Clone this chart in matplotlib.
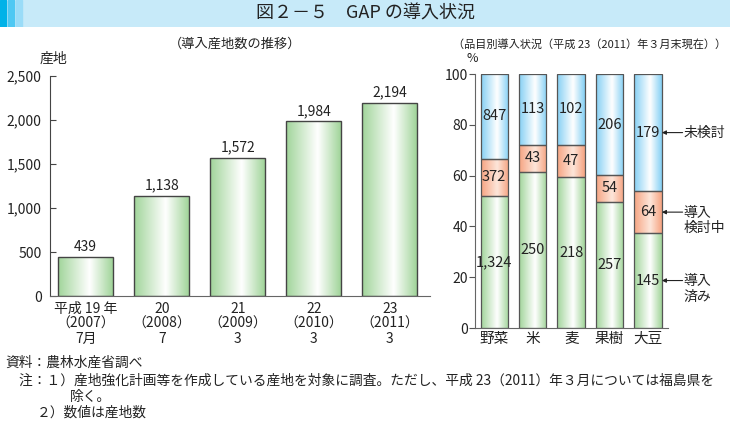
import matplotlib
matplotlib.use("Agg")
import matplotlib.pyplot as plt
import numpy as np
from matplotlib.patches import Rectangle
from matplotlib.colors import LinearSegmentedColormap

plt.rcParams['font.family'] = ['Noto Sans CJK JP', 'DejaVu Sans']

# ---- データ ----
years = ['平成 19 年\n（2007）\n7月', '20\n（2008）\n7', '21\n（2009）\n3',
         '22\n（2010）\n3', '23\n（2011）\n3']
counts = [439, 1138, 1572, 1984, 2194]

items = ['野菜', '米', '麦', '果樹', '大豆']
done = [1324, 250, 218, 257, 145]        # 導入済み
planning = [372, 43, 47, 54, 64]         # 導入検討中
not_yet = [847, 113, 102, 206, 179]      # 未検討

W, H = 730, 426
fig = plt.figure(figsize=(W / 100, H / 100), dpi=100)


def px_axes(x0, y0, x1, y1):
    # 画素座標 (左上原点) で軸を作る
    return fig.add_axes([x0 / W, 1 - y1 / H, (x1 - x0) / W, (y1 - y0) / H])


def grad_cmap(edge, mid='#ffffff'):
    return LinearSegmentedColormap.from_list('g', [edge, mid, edge])


def grad_bar(ax, x, bottom, height, width, cmap, ec, lw=1.0):
    xs = np.linspace(0, 1, 64)
    # ハイライトを少し右寄りに
    g = np.where(xs < 0.58, xs / 0.58 * 0.5, 0.5 + (xs - 0.58) / 0.42 * 0.5)
    img = ax.imshow(g[np.newaxis, :], aspect='auto', cmap=cmap, vmin=0, vmax=1,
                    extent=[x - width / 2, x + width / 2, bottom, bottom + height],
                    interpolation='bicubic', zorder=2)
    r = Rectangle((x - width / 2, bottom), width, height, fill=False,
                  ec=ec, lw=lw, zorder=3)
    ax.add_patch(r)
    img.set_clip_path(r)


green = grad_cmap('#a2d59b')
blue = grad_cmap('#86d0f4')
orange = grad_cmap('#f6a482', '#fde6da')

# ---- タイトル帯 ----
band = fig.add_axes([0, 1 - 27 / H, 1, 27 / H])
band.set_xlim(0, W)
band.set_ylim(0, 27)
band.axis('off')
band.add_patch(Rectangle((0, 0), W, 27, color='#c7eaf9'))
for x, c in [(0, '#00b2e8'), (8, '#4ec8f3'), (16, '#9adcf8')]:
    band.add_patch(Rectangle((x, 0), 6, 27, color=c))
band.text(W / 2, 13.5, '図２－５　GAP の導入状況', ha='center', va='center',
          fontsize=13, color='#222222')

# ---- 左：導入産地数の推移 ----
ax1 = px_axes(50, 76, 430, 296)
for i, v in enumerate(counts):
    grad_bar(ax1, i, 0, v, 0.72, green, '#444444', 1.0)
    ax1.text(i, v + 40, f'{v:,}', ha='center', va='bottom', fontsize=10,
             color='#222222')
ax1.set_xlim(-0.47, 4.53)
ax1.set_ylim(0, 2500)
ax1.set_yticks(range(0, 2501, 500))
ax1.set_yticklabels([f'{t:,}' for t in range(0, 2501, 500)])
ax1.set_xticks(range(len(years)))
ax1.set_xticklabels(years, linespacing=1.1)
ax1.tick_params(axis='y', direction='in', length=4, color='#444444',
                labelsize=10, pad=6, labelcolor='#222222')
ax1.tick_params(axis='x', length=0, labelsize=10, pad=4, labelcolor='#222222')
for s in ['top', 'right']:
    ax1.spines[s].set_visible(False)
ax1.spines['left'].set_color('#444444')
ax1.spines['bottom'].set_color('#666666')

fig.text(235 / W, 1 - 44 / H, '（導入産地数の推移）', ha='center', va='center',
         fontsize=9.5, color='#222222')
fig.text(40 / W, 1 - 59 / H, '産地', ha='left', va='center', fontsize=10,
         color='#222222')

# ---- 右：品目別導入状況 ----
ax2 = px_axes(475, 74, 668, 328)
for i in range(len(items)):
    tot = done[i] + planning[i] + not_yet[i]
    segs = [(done[i], green), (planning[i], orange), (not_yet[i], blue)]
    b = 0
    for n, cm in segs:
        h = n / tot * 100
        grad_bar(ax2, i, b, h, 0.71, cm, '#555555', 0.9)
        ax2.text(i, b + h / 2, f'{n:,}', ha='center', va='center',
                 fontsize=10.5, color='#222222', zorder=4)
        b += h
ax2.set_xlim(-0.5, 4.52)
ax2.set_ylim(0, 100)
ax2.set_yticks(range(0, 101, 20))
ax2.set_xticks(range(len(items)))
ax2.set_xticklabels(items)
ax2.tick_params(axis='y', direction='out', length=4, color='#555555',
                labelsize=10, pad=1, labelcolor='#222222')
ax2.tick_params(axis='x', length=0, labelsize=10.5, pad=3, labelcolor='#222222')
for s in ['top', 'right']:
    ax2.spines[s].set_visible(False)
for s in ['left', 'bottom']:
    ax2.spines[s].set_color('#666666')

# 凡例代わりの矢印注記 (大豆の棒に付ける)
tot = done[4] + planning[4] + not_yet[4]
p_done = done[4] / tot * 100
p_plan = planning[4] / tot * 100
p_not = not_yet[4] / tot * 100
notes = [('未検討', p_done + p_plan + p_not / 2),
         ('導入\n検討中', p_done + p_plan / 2),
         ('導入\n済み', p_done / 2)]
for label, y in notes:
    ax2.annotate('', xy=(4.36, y), xytext=(4.9, y),
                 arrowprops=dict(arrowstyle='-|>', color='#222222', lw=0.8,
                                 mutation_scale=6, shrinkA=0, shrinkB=0),
                 annotation_clip=False)
    ax2.text(4.93, y + 2.6, label, ha='left', va='top', fontsize=10,
             color='#222222', linespacing=1.15, clip_on=False)

fig.text(590 / W, 1 - 44 / H, '（品目別導入状況（平成 23（2011）年３月末現在））',
         ha='center', va='center', fontsize=8.0, color='#222222')
fig.text(472 / W, 1 - 59 / H, '%', ha='center', va='center', fontsize=9,
         color='#222222')

# ---- 脚注 ----
foot = dict(ha='left', va='center', fontsize=9.9, color='#222222')
fig.text(5 / W, 1 - 363 / H, '資料：農林水産省調べ', **foot)
fig.text(19 / W, 1 - 381 / H,
         '注：１）産地強化計画等を作成している産地を対象に調査。ただし、平成 23（2011）年３月については福島県を',
         **foot)
fig.text(70 / W, 1 - 397 / H, '除く。', **foot)
fig.text(37 / W, 1 - 413 / H, '２）数値は産地数', **foot)

fig.savefig('out.png', dpi=100)
